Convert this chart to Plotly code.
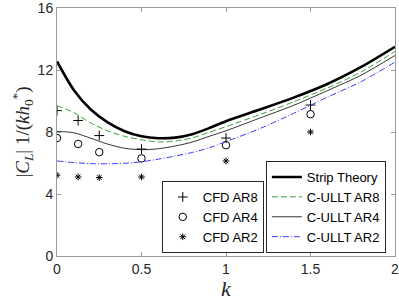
import plotly.graph_objects as go

# Curves
k_line = [0, 0.1, 0.2, 0.3, 0.4, 0.5, 0.6, 0.7, 0.8, 0.9, 1.0, 1.2, 1.4, 1.6, 1.8, 2.0]
strip = [12.55, 10.7, 9.45, 8.62, 8.05, 7.72, 7.6, 7.64, 7.86, 8.25, 8.7, 9.45, 10.22, 11.1, 12.2, 13.5]
ullt_ar8 = [9.7, 9.25, 8.58, 8.07, 7.72, 7.5, 7.36, 7.42, 7.62, 7.98, 8.35, 9.12, 9.95, 10.84, 11.88, 13.2]
ullt_ar4 = [8.04, 7.95, 7.6, 7.22, 6.95, 6.86, 6.92, 7.1, 7.35, 7.72, 8.08, 8.9, 9.72, 10.67, 11.67, 12.94]
ullt_ar2 = [6.13, 6.03, 5.96, 5.95, 5.98, 6.08, 6.25, 6.45, 6.68, 6.98, 7.38, 8.22, 9.2, 10.25, 11.25, 12.51]

# CFD points
k_cfd = [0, 0.125, 0.25, 0.5, 1.0, 1.5]
cfd_ar8 = [9.38, 8.74, 7.77, 6.9, 7.61, 9.74]
cfd_ar4 = [7.61, 7.23, 6.7, 6.3, 7.15, 9.15]
cfd_ar2 = [5.21, 5.1, 5.06, 5.1, 6.13, 8.0]

x_ticks = [0, 0.5, 1, 1.5, 2]
x_ticklabels = ["0", "0.5", "1", "1.5", "2"]
y_ticks = [0, 4, 8, 12, 16]
y_ticklabels = ["0", "4", "8", "12", "16"]

fig = go.Figure()

fig.add_trace(go.Scatter(x=k_cfd, y=cfd_ar8, mode="markers", name="CFD AR8", legend="legend2",
                         marker=dict(symbol="cross-thin", size=7, color="black",
                                     line=dict(color="black", width=1))))
fig.add_trace(go.Scatter(x=k_cfd, y=cfd_ar4, mode="markers", name="CFD AR4", legend="legend2",
                         marker=dict(symbol="circle-open", size=7.5, color="black",
                                     line=dict(color="black", width=1))))
fig.add_trace(go.Scatter(x=k_cfd, y=cfd_ar2, mode="markers", name="CFD AR2", legend="legend2",
                         marker=dict(symbol="asterisk-open", size=5.5, color="black",
                                     line=dict(color="black", width=1))))

fig.add_trace(go.Scatter(x=k_line, y=strip, mode="lines", name="Strip Theory",
                         line=dict(color="black", width=2.6, shape="spline", smoothing=0.8)))
fig.add_trace(go.Scatter(x=k_line, y=ullt_ar8, mode="lines", name="C-ULLT AR8",
                         line=dict(color="#3c9c3c", width=1, dash="6px,3px", shape="spline", smoothing=0.8)))
fig.add_trace(go.Scatter(x=k_line, y=ullt_ar4, mode="lines", name="C-ULLT AR4",
                         line=dict(color="black", width=0.8, shape="spline", smoothing=0.8)))
fig.add_trace(go.Scatter(x=k_line, y=ullt_ar2, mode="lines", name="C-ULLT AR2",
                         line=dict(color="#3a3aff", width=1, dash="6px,2px,1px,2px", shape="spline", smoothing=0.8)))

axis_common = dict(showline=True, linecolor="#9a9a9a", linewidth=1, mirror="ticks",
                   ticks="inside", ticklen=4, tickcolor="#9a9a9a", showgrid=False, zeroline=False,
                   ticklabeloverflow="allow",
                   tickfont=dict(family="Liberation Sans, Arial", size=14, color="#262626"))

fig.update_xaxes(range=[0, 2], tickvals=x_ticks, ticktext=x_ticklabels,
                 title=dict(text="<i>k</i>", font=dict(family="Liberation Serif, DejaVu Serif", size=22, color="#262626"),
                            standoff=2),
                 automargin=False, **axis_common)
fig.update_yaxes(range=[0, 16.001], tickvals=y_ticks, ticktext=y_ticklabels,
                 title=dict(text="|<i>C<sub>L</sub></i>| 1/(<i>kh</i><sub>0</sub><sup>*</sup>)",
                            font=dict(family="Liberation Serif, DejaVu Serif", size=19, color="#262626"),
                            standoff=2),
                 automargin=False, **axis_common)

legend_font = dict(family="Liberation Sans, Arial", size=13, color="black")
fig.update_layout(
    width=399, height=301,
    margin=dict(l=57, r=4, t=8, b=45),
    plot_bgcolor="white", paper_bgcolor="white",
    legend=dict(x=0.973, y=0.012, xanchor="right", yanchor="bottom", font=legend_font,
                bordercolor="#262626", borderwidth=1, bgcolor="white",
                tracegroupgap=0, itemwidth=30),
    legend2=dict(x=0.31, y=0.012, xanchor="left", yanchor="bottom", font=legend_font,
                 bordercolor="#262626", borderwidth=1, bgcolor="white",
                 tracegroupgap=0, itemwidth=30),
)

fig.write_html("out.html", config={"displayModeBar": False},
               post_script="document.body.style.margin='0';document.body.style.padding='0';")
